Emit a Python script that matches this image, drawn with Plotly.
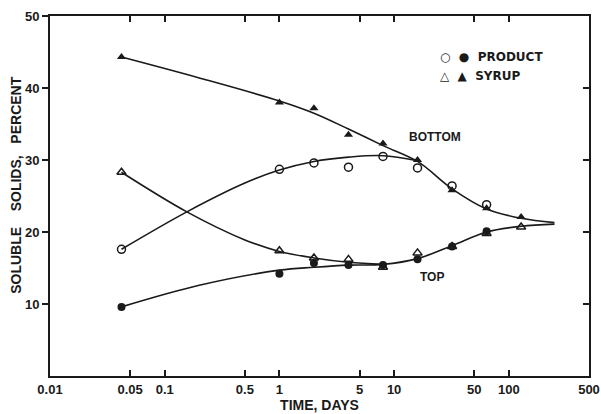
import numpy as np
import plotly.graph_objects as go

# ---- data (time in days, soluble solids %) ----
times = [0.042, 1, 2, 4, 8, 16, 32, 64, 128]

syrup_bottom = [44.3, 38.0, 37.2, 33.5, 32.3, 30.0, 25.8, 23.3, 22.1]      # filled triangles
syrup_top = [28.3, 17.4, 16.4, 16.2, 15.1, 17.1, 18.0, 19.8, 20.7]         # open triangles
product_times = [0.042, 1, 2, 4, 8, 16, 32, 64]
product_bottom = [17.6, 28.7, 29.6, 29.0, 30.5, 28.9, 26.4, 23.8]          # open circles
product_top = [9.6, 14.2, 15.7, 15.4, 15.4, 16.2, 18.0, 20.1]              # filled circles

# hand-drawn curves (knots)
bottom_curve_x = [0.042, 0.2, 1, 2, 4, 8, 16, 32, 64, 128, 250]
bottom_curve_y = [44.3, 41.4, 38.2, 36.5, 34.3, 32.0, 29.8, 26.0, 23.2, 21.9, 21.3]
top_curve_x = [0.042, 0.2, 1, 2, 4, 8, 16, 32, 64, 128, 250]
top_curve_y = [9.6, 12.6, 14.7, 15.1, 15.4, 15.5, 16.3, 18.1, 20.0, 20.8, 21.1]
syrup_top_curve_x = [0.042, 0.156, 0.5, 1, 2, 4, 8]
syrup_top_curve_y = [28.3, 22.8, 18.9, 17.3, 16.4, 15.8, 15.5]
product_bottom_curve_x = [0.042, 0.156, 0.5, 1, 2, 4, 8, 16]
product_bottom_curve_y = [17.6, 22.8, 26.8, 28.6, 29.8, 30.4, 30.6, 29.9]

x_tickvals = [0.01, 0.05, 0.1, 0.5, 1, 5, 10, 50, 100, 500]
x_ticktext = ["0.01", "0.05", "0.1", "0.5", "1", "5", "10", "50", "100", "500"]
y_tickvals = [10, 20, 30, 40, 50]

INK = "#1a1a1a"
FONT = "Liberation Sans Narrow, Liberation Sans, Arial, sans-serif"

fig = go.Figure()

for cx, cy in [(bottom_curve_x, bottom_curve_y), (top_curve_x, top_curve_y),
               (syrup_top_curve_x, syrup_top_curve_y),
               (product_bottom_curve_x, product_bottom_curve_y)]:
    fig.add_trace(go.Scatter(x=cx, y=cy, mode="lines",
                             line=dict(color=INK, width=1.6, shape="spline", smoothing=1.0),
                             hoverinfo="skip", showlegend=False))

fig.add_trace(go.Scatter(x=times, y=syrup_bottom, mode="markers",
                         marker=dict(symbol="triangle-up", size=8, color=INK),
                         showlegend=False))
fig.add_trace(go.Scatter(x=times, y=syrup_top, mode="markers",
                         marker=dict(symbol="triangle-up-open", size=8, color=INK,
                                     line=dict(width=1.5, color=INK)),
                         showlegend=False))
fig.add_trace(go.Scatter(x=product_times, y=product_bottom, mode="markers",
                         marker=dict(symbol="circle-open", size=8, color=INK,
                                     line=dict(width=1.5, color=INK)),
                         showlegend=False))
fig.add_trace(go.Scatter(x=product_times, y=product_top, mode="markers",
                         marker=dict(symbol="circle", size=8, color=INK),
                         showlegend=False))

# invisible trace to drive the right-hand y axis ticks
fig.add_trace(go.Scatter(x=[times[0]], y=[syrup_top[0]], yaxis="y2", mode="markers",
                         marker=dict(opacity=0), hoverinfo="skip", showlegend=False))

fig.update_layout(
    width=601, height=414,
    margin=dict(l=50, r=12, t=16, b=38),
    paper_bgcolor="white", plot_bgcolor="white",
    font=dict(family=FONT, size=12, color=INK, weight="bold"),
    xaxis=dict(type="log", range=[np.log10(0.01), np.log10(500)],
               tickvals=x_tickvals, ticktext=x_ticktext,
               ticks="inside", ticklen=6, tickwidth=2, tickcolor=INK,
               showline=True, linecolor=INK, linewidth=2, mirror="ticks",
               showgrid=False, zeroline=False, automargin=False,
               ticklabeloverflow="allow",
               tickfont=dict(size=13),
               title=dict(text="TIME, DAYS", standoff=3, font=dict(size=14))),
    yaxis=dict(range=[0, 50], tickvals=y_tickvals,
               ticks="outside", ticklen=6, tickwidth=2, tickcolor=INK,
               showline=True, linecolor=INK, linewidth=2, mirror=True,
               showgrid=False, zeroline=False, automargin=False,
               tickfont=dict(size=13)),
    yaxis2=dict(range=[0, 50], tickvals=y_tickvals[:-1], overlaying="y", side="right",
                ticks="inside", ticklen=6, tickwidth=2, tickcolor=INK, automargin=False,
                showticklabels=False, showline=False, showgrid=False, zeroline=False),
    showlegend=False,
)

# y-axis title as rotated annotation
fig.add_annotation(x=-0.062, y=0.53, xref="paper", yref="paper",
                   text="SOLUBLE    SOLIDS,   PERCENT", textangle=-90,
                   showarrow=False, xanchor="center", yanchor="middle",
                   font=dict(size=14))

# labels
fig.add_annotation(x=np.log10(12.9), y=33.2, xref="x", yref="y", text="BOTTOM",
                   showarrow=False, xanchor="left", font=dict(size=12))
fig.add_annotation(x=np.log10(21.4), y=13.75, xref="x", yref="y", text="TOP",
                   showarrow=False, xanchor="center", font=dict(size=12))

# legend (drawn as text lines)
fig.add_annotation(x=0.72, y=0.912, xref="paper", yref="paper",
                   text="○  ●  PRODUCT", showarrow=False, xanchor="left",
                   font=dict(size=12, family="DejaVu Sans, Liberation Sans", weight="bold"))
fig.add_annotation(x=0.72, y=0.857, xref="paper", yref="paper",
                   text="△  ▲  SYRUP", showarrow=False, xanchor="left",
                   font=dict(size=12, family="DejaVu Sans, Liberation Sans", weight="bold"))

fig.write_html("out.html",
               config={"displayModeBar": False},
               post_script="document.body.style.margin='0';document.body.style.overflow='hidden';")
